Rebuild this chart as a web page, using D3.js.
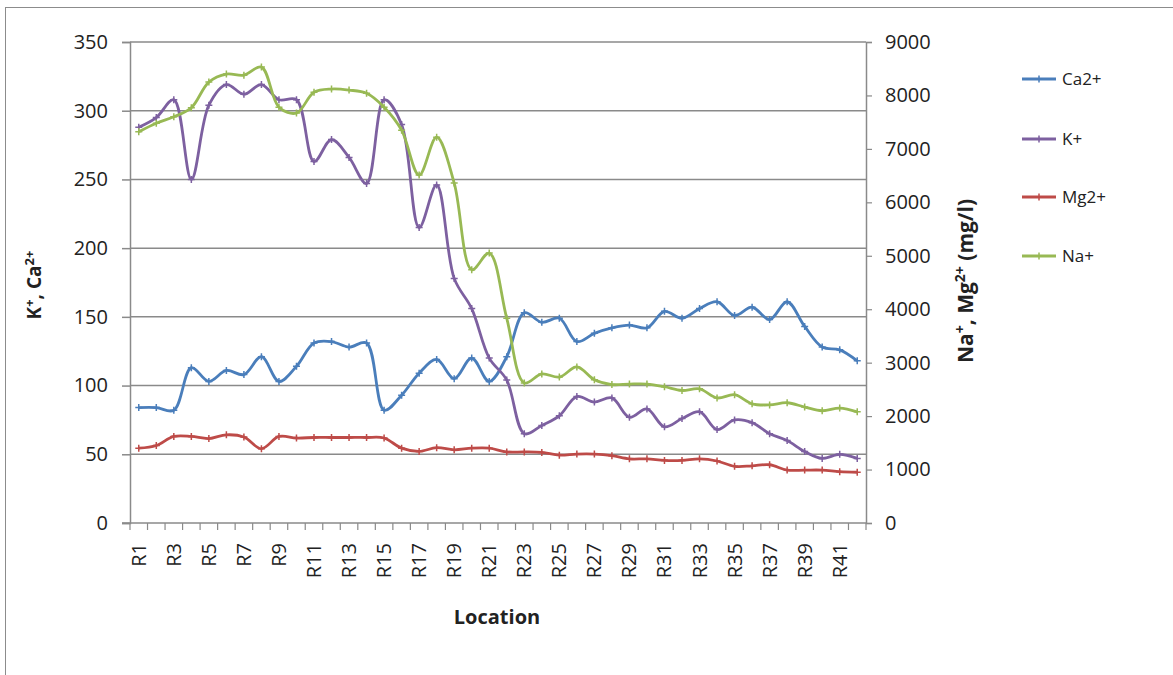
<!DOCTYPE html>
<html><head><meta charset="utf-8">
<script src="https://cdn.jsdelivr.net/npm/d3@7/dist/d3.min.js"></script>
<style>
body{margin:0;background:#fff;}
text{font-family:"Open Sans","Liberation Sans",sans-serif;fill:#222;}
</style></head>
<body><svg id="c" width="1173" height="675"></svg>
<script>
const categories = d3.range(1,43).map(i=>"R"+i);
const ca = [84,84,82,113,103,111,108,121,103,114,131,132,128,131,82,93,109,119,105,120,103,121,153,146,149,132,138,142,144,142,154,149,156,161,151,157,148,161,143,128,126,118];
const k  = [288,295,308,250,304,319,312,319,308,308,263,279,266,247,308,290,215,246,178,156,120,104,65,71,78,92,88,91,77,83,70,76,81,68,75,73,65,60,52,47,50,47];
const mg = [1400,1450,1620,1620,1580,1650,1610,1390,1620,1590,1600,1600,1600,1600,1590,1400,1340,1410,1370,1400,1400,1330,1330,1320,1270,1290,1290,1260,1200,1200,1170,1170,1200,1160,1060,1070,1090,990,990,990,960,950];
const na = [7320,7480,7600,7770,8250,8400,8380,8530,7780,7670,8060,8120,8100,8040,7780,7350,6510,7220,6360,4740,5050,3830,2620,2790,2730,2920,2680,2590,2600,2600,2550,2480,2510,2340,2400,2230,2210,2250,2170,2100,2150,2080];
const leftTicks = d3.range(0,351,50);
const rightTicks = d3.range(0,9001,1000);
const seriesNames = ["Ca2+","K+","Mg2+","Na+"];
const colors = ["#4a7ebb","#7d60a0","#be4b48","#98b954"];

const svg = d3.select("#c");
const L=130,R=866,T=42,B=523;
const x = d3.scaleBand().domain(categories).range([L,R]).padding(0);
const yL = d3.scaleLinear().domain([0,350]).range([B,T]);
const yR = d3.scaleLinear().domain([0,9000]).range([B,T]);

svg.append("rect").attr("x",5.5).attr("y",7.5).attr("width",1200).attr("height",700)
  .attr("fill","none").attr("stroke","#8c8c8c").attr("stroke-width",1);

svg.append("g").selectAll("line").data(leftTicks.filter(d=>d>0)).join("line")
  .attr("x1",L).attr("x2",R).attr("y1",d=>yL(d)).attr("y2",d=>yL(d))
  .attr("stroke","#8a8a8a").attr("stroke-width",1.5);

const gl = svg.append("g").attr("transform",`translate(${L},0)`)
  .call(d3.axisLeft(yL).tickValues(leftTicks).tickSize(8).tickPadding(14));
gl.select(".domain").attr("stroke","#8a8a8a").attr("stroke-width",1.5);
gl.selectAll(".tick line").attr("stroke","#8a8a8a").attr("stroke-width",1.5);
gl.selectAll("text").style("font-size","20px").style("font-family","Open Sans").attr("fill","#222");

const gr = svg.append("g").attr("transform",`translate(${R},0)`)
  .call(d3.axisRight(yR).tickValues(rightTicks).tickFormat(d3.format("d")).tickSize(6).tickPadding(13));
gr.select(".domain").attr("stroke","#8a8a8a").attr("stroke-width",1.5);
gr.selectAll(".tick line").attr("stroke","#8a8a8a").attr("stroke-width",1.2);
gr.selectAll("text").style("font-size","20px").style("font-family","Open Sans").attr("fill","#222");

svg.append("line").attr("x1",L-8).attr("x2",R).attr("y1",B).attr("y2",B).attr("stroke","#8a8a8a").attr("stroke-width",1.5);
const bounds = categories.map(c=>x(c)).concat([R]);
svg.append("g").selectAll("line").data(bounds).join("line")
  .attr("x1",d=>d).attr("x2",d=>d).attr("y1",B).attr("y2",B+7)
  .attr("stroke","#8a8a8a").attr("stroke-width",1.2);
svg.append("g").selectAll("text").data(categories.filter((c,i)=>i%2===0)).join("text")
  .attr("transform",c=>`translate(${x(c)+x.bandwidth()/2+7},${B+20}) rotate(-90)`)
  .attr("text-anchor","end").style("font-size","20px").text(c=>c);

svg.append("text").attr("x",497).attr("y",624).attr("text-anchor","middle")
  .style("font-size","20px").attr("font-weight","bold").text("Location");

const tl = svg.append("text").attr("transform","translate(41,285) rotate(-90)")
  .attr("text-anchor","middle").style("font-size","19px").attr("font-weight","bold");
tl.append("tspan").text("K");
tl.append("tspan").attr("dy",-7).style("font-size","13px").text("+");
tl.append("tspan").attr("dy",7).text(", Ca");
tl.append("tspan").attr("dy",-7).style("font-size","13px").text("2+");

const tr = svg.append("text").attr("transform","translate(973,281) rotate(-90)")
  .attr("text-anchor","middle").style("font-size","21px").attr("font-weight","bold");
tr.append("tspan").text("Na");
tr.append("tspan").attr("dy",-8).style("font-size","14px").text("+");
tr.append("tspan").attr("dy",8).text(", Mg");
tr.append("tspan").attr("dy",-8).style("font-size","14px").text("2+");
tr.append("tspan").attr("dy",8).text(" (mg/l)");

const data = [ca,k,mg,na];
const scales = [yL,yL,yR,yR];
const order = [2,0,1,3];
const cx = i=>x(categories[i])+x.bandwidth()/2;
order.forEach(s=>{
  const line = d3.line().x((d,i)=>cx(i)).y(d=>scales[s](d)).curve(d3.curveCatmullRom.alpha(0.5));
  svg.append("path").datum(data[s]).attr("d",line).attr("fill","none")
    .attr("stroke",colors[s]).attr("stroke-width",2.8);
  const g = svg.append("g");
  data[s].forEach((d,i)=>{
    const px=cx(i), py=scales[s](d);
    g.append("path").attr("d",`M${px-3.5},${py}H${px+3.5}M${px},${py-3.5}V${py+3.5}`)
      .attr("stroke",colors[s]).attr("stroke-width",1.5);
  });
});

const ly = [79,139,197,256];
seriesNames.forEach((n,i)=>{
  svg.append("line").attr("x1",1022).attr("x2",1056).attr("y1",ly[i]).attr("y2",ly[i])
    .attr("stroke",colors[i]).attr("stroke-width",2.8);
  svg.append("path").attr("d",`M1035.5,${ly[i]}H1042.5M1039,${ly[i]-3.5}V${ly[i]+3.5}`)
    .attr("stroke",colors[i]).attr("stroke-width",1.5);
  svg.append("text").attr("x",1062).attr("y",ly[i]+6).style("font-size","17px").text(n);
});
</script></body></html>
